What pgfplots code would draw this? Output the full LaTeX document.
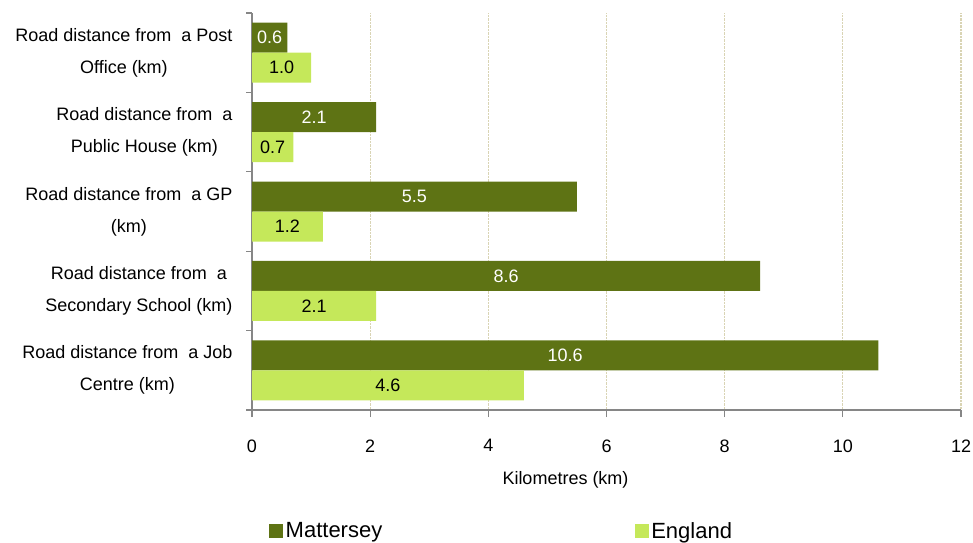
\documentclass[border=0pt]{standalone}
\usepackage{pgfplots}
\pgfplotsset{compat=1.18}
\usepackage{fontspec}
\setmainfont{Liberation Sans}
\definecolor{dgreen}{RGB}{94,115,20}
\definecolor{lgreen}{RGB}{197,232,90}
\definecolor{gridc}{RGB}{217,212,180}
\definecolor{axc}{RGB}{134,134,134}
\begin{document}
\begin{tikzpicture}
\path[use as bounding box] (0,0) rectangle (973pt,542pt);
\begin{axis}[
  at={(252pt,132pt)}, anchor=south west,
  scale only axis, width=709pt, height=397pt,
  xbar, bar width=30pt,
  xmin=0, xmax=12, ymin=-0.5, ymax=4.5,
  axis x line=bottom, axis y line=left,
  axis line style={axc, line width=1.2pt, -},
  tick style={axc, line width=1.2pt},
  tick align=outside,
  major tick length=7pt, minor tick length=6pt,
  xtick={0,2,...,12},
  xmajorgrids, grid style={gridc, densely dotted, line width=1.2pt},
  ytick={0,1,2,3,4},
  minor ytick={-0.5,0.5,...,4.5},
  major y tick style={draw=none},
  yticklabels={{Road distance from~~a Job\\Centre (km)},
               {Road distance from~~a\\Secondary School (km)},
               {Road distance from~~a GP\\(km)},
               {Road distance from~~a\\Public House (km)},
               {Road distance from~~a Post\\Office (km)}},
  yticklabel style={align=center, font=\fontsize{18}{32}\selectfont, xshift=-9pt},
  xticklabel style={font=\fontsize{18}{18}\selectfont, yshift=-19pt},
  /pgf/number format/assume math mode=true,
  xlabel={Kilometres (km)},
  xlabel style={font=\fontsize{18}{18}\selectfont, yshift=-12pt, xshift=-41pt},
  visualization depends on={x \as \rawx},
  point meta=x,
  nodes near coords={\pgfmathprintnumber[fixed,fixed zerofill,precision=1]{\pgfplotspointmeta}},
  every node near coord/.append style={anchor=center, xshift={-\rawx*29.5417pt}, font=\fontsize{18}{18}\selectfont},
  legend columns=2,
  legend style={at={(axis description cs:0.024,-0.305)}, anchor=west, draw=none,
    font=\fontsize{22}{22}\selectfont, inner sep=0pt,
    nodes={inner sep=2.5pt},
    /tikz/column 2/.style={column sep=250pt}},
]
\addplot[fill=dgreen, draw=none, bar shift=15pt,
  every node near coord/.append style={white},
  legend image code/.code={\fill[dgreen] (0pt,-7pt) rectangle (14pt,7pt);}]
  coordinates {(10.6,0) (8.6,1) (5.5,2) (2.1,3) (0.6,4)};
\addlegendentry{Mattersey}
\addplot[fill=lgreen, draw=none, bar shift=-15pt,
  every node near coord/.append style={black},
  legend image code/.code={\fill[lgreen] (0pt,-7pt) rectangle (14pt,7pt);}]
  coordinates {(4.6,0) (2.1,1) (1.2,2) (0.7,3) (1.0,4)};
\addlegendentry{England}
\end{axis}
\end{tikzpicture}
\end{document}
